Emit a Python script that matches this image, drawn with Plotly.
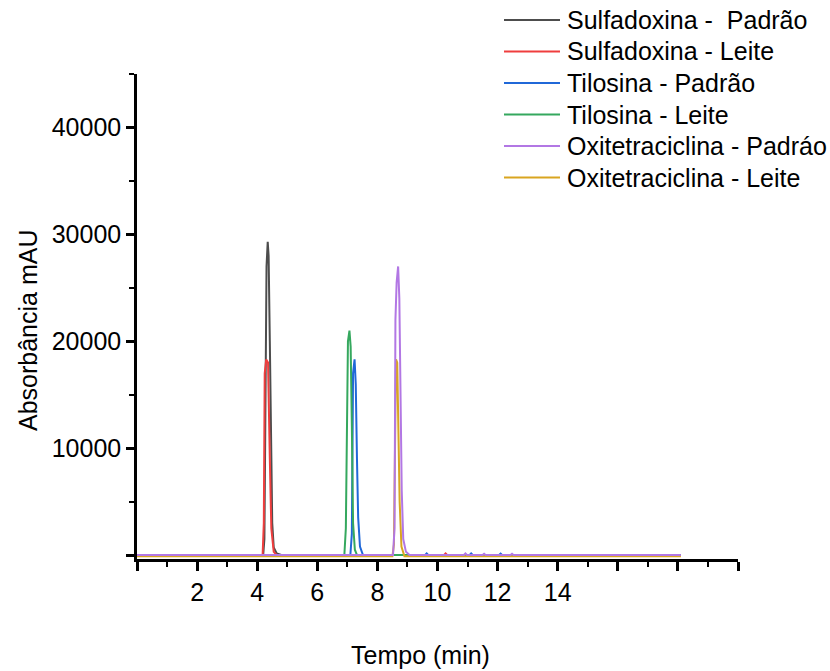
import plotly.graph_objects as go

# Chromatogram traces: retention time (min) and absorbance (mAU)
sulfa_padrao_t = [0.0, 4.20, 4.24, 4.27, 4.31, 4.35, 4.38, 4.42, 4.46, 4.50, 4.55, 4.65, 4.80, 18.1]
sulfa_padrao_y = [0, 0, 1500, 17000, 27000, 29300, 28000, 20000, 11000, 3000, 700, 150, 0, 0]

sulfa_leite_t = [0.0, 4.18, 4.22, 4.25, 4.30, 4.36, 4.42, 4.47, 4.55, 4.65, 10.22, 10.27, 10.32, 18.1]
sulfa_leite_y = [0, 0, 3000, 17000, 18300, 18000, 9000, 2500, 300, 0, 0, 150, 0, 0]

tilo_padrao_t = [0.0, 7.10, 7.15, 7.19, 7.24, 7.28, 7.32, 7.36, 7.42, 7.52,
                 9.59, 9.64, 9.69, 11.07, 11.12, 11.17, 12.05, 12.10, 12.15, 18.1]
tilo_padrao_y = [0, 0, 2000, 17000, 18300, 16000, 9000, 3500, 800, 0,
                 0, 150, 0, 0, 150, 0, 0, 130, 0, 0]

tilo_leite_t = [0.0, 6.90, 6.95, 6.98, 7.02, 7.07, 7.11, 7.15, 7.19, 7.25, 7.32, 18.1]
tilo_leite_y = [0, 0, 2500, 13000, 20000, 21000, 19500, 12000, 3000, 500, 0, 0]

oxi_padrao_t = [0.0, 8.52, 8.57, 8.60, 8.64, 8.69, 8.73, 8.77, 8.81, 8.86, 8.95, 9.07,
                10.88, 10.93, 10.98, 11.50, 11.55, 11.60, 12.43, 12.48, 12.53, 18.1]
oxi_padrao_y = [0, 0, 2500, 22000, 25500, 27000, 24000, 15000, 6000, 1500, 300, 0,
                0, 150, 0, 0, 120, 0, 0, 120, 0, 0]

oxi_leite_t = [0.0, 8.50, 8.55, 8.58, 8.62, 8.66, 8.70, 8.74, 8.80, 8.90, 18.1]
oxi_leite_y = [-120, -120, 1000, 12000, 18300, 18000, 12000, 5000, 800, -120, -120]

series_names = [
    "Sulfadoxina - \u00a0Padrão",
    "Sulfadoxina - Leite",
    "Tilosina - Padrão",
    "Tilosina - Leite",
    "Oxitetraciclina - Padráo",
    "Oxitetraciclina - Leite",
]
series_colors = ["#4d4d4d", "#ef3e3e", "#2068d8", "#35a85e", "#b277e4", "#d9a520"]
series_t = [sulfa_padrao_t, sulfa_leite_t, tilo_padrao_t, tilo_leite_t, oxi_padrao_t, oxi_leite_t]
series_y = [sulfa_padrao_y, sulfa_leite_y, tilo_padrao_y, tilo_leite_y, oxi_padrao_y, oxi_leite_y]

x_tick_vals = list(range(0, 21, 2))
x_tick_text = ["", "2", "4", "6", "8", "10", "12", "14", "", "", ""]
y_tick_vals = [0, 10000, 20000, 30000, 40000]
y_tick_text = ["", "10000", "20000", "30000", "40000"]

FONT = "Liberation Sans, Arial, sans-serif"
FSIZE = 25

fig = go.Figure()

# draw order: yellow before purple so the purple baseline sits on top
draw_order = [0, 1, 2, 3, 5, 4]
for i in draw_order:
    fig.add_trace(go.Scatter(
        x=series_t[i], y=series_y[i], mode="lines", name=series_names[i],
        line=dict(color=series_colors[i], width=2), showlegend=False,
    ))

# Hand-built legend in the top-right corner (long line samples)
leg_top_px = 20.0
leg_step_px = 31.5
plot_left, plot_right, plot_top, plot_bottom = 137, 738, 74, 559
pw = plot_right - plot_left
ph = plot_bottom - plot_top


def px_x(p):
    return (p - plot_left) / pw


def px_y(p):
    return (plot_bottom - p) / ph


for i, (name, color) in enumerate(zip(series_names, series_colors)):
    yc = px_y(leg_top_px + leg_step_px * i)
    fig.add_shape(type="line", xref="paper", yref="paper",
                  x0=px_x(504), x1=px_x(560), y0=yc, y1=yc,
                  line=dict(color=color, width=2))
    fig.add_annotation(xref="paper", yref="paper", x=px_x(565), y=yc,
                       text=name, showarrow=False, xanchor="left", yanchor="middle",
                       font=dict(family=FONT, size=FSIZE, color="black"))

# Axis titles
fig.add_annotation(xref="paper", yref="paper", x=px_x(420), y=px_y(655),
                   text="Tempo (min)", showarrow=False, xanchor="center", yanchor="middle",
                   font=dict(family=FONT, size=FSIZE, color="black"))
fig.add_annotation(xref="paper", yref="paper", x=px_x(28), y=px_y(331),
                   text="Absorbância mAU", showarrow=False, textangle=-90,
                   xanchor="center", yanchor="middle",
                   font=dict(family=FONT, size=FSIZE, color="black"))

fig.update_layout(
    width=830, height=671,
    margin=dict(l=plot_left, r=830 - plot_right, t=plot_top, b=671 - plot_bottom),
    paper_bgcolor="white", plot_bgcolor="white",
    font=dict(family=FONT, size=FSIZE, color="black"),
    xaxis=dict(
        range=[0, 20], showgrid=False, zeroline=False,
        showline=True, linecolor="black", linewidth=2.5,
        ticks="outside", ticklen=9, tickwidth=2.5, tickcolor="black",
        tickvals=x_tick_vals, ticktext=x_tick_text,
        tickfont=dict(family=FONT, size=FSIZE, color="black"),
        minor=dict(dtick=1, tick0=0, ticks="outside", ticklen=5, tickwidth=2, tickcolor="black"),
    ),
    yaxis=dict(
        range=[-370, 45000], showgrid=False, zeroline=False,
        showline=True, linecolor="black", linewidth=2.5,
        ticks="outside", ticklen=8, tickwidth=2.5, tickcolor="black",
        tickvals=y_tick_vals, ticktext=y_tick_text,
        tickfont=dict(family=FONT, size=FSIZE, color="black"),
        minor=dict(dtick=5000, tick0=0, ticks="outside", ticklen=5, tickwidth=2, tickcolor="black"),
    ),
)

fig.write_html("out.html")
